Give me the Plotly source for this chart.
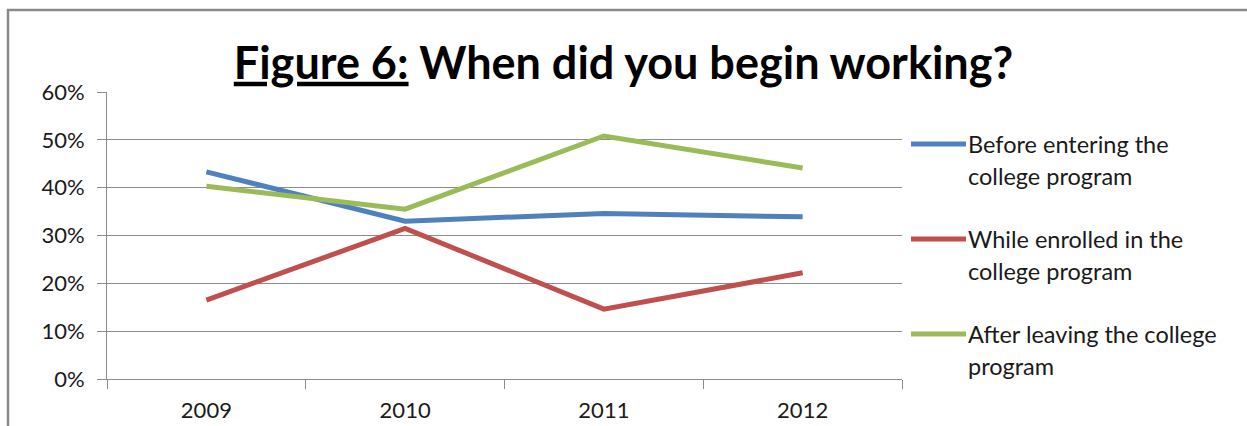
import plotly.graph_objects as go

years = ["2009", "2010", "2011", "2012"]
before_entering = [43.3, 33.0, 34.6, 33.9]
while_enrolled = [16.5, 31.5, 14.6, 22.2]
after_leaving = [40.3, 35.5, 50.8, 44.1]

series_names = [
    ["Before entering the", "college program"],
    ["While enrolled in the", "college program"],
    ["After leaving the college", "program"],
]
series_values = [before_entering, while_enrolled, after_leaving]
series_colors = ["#4F81BD", "#C0504D", "#9BBB59"]

y_ticks = [0, 10, 20, 30, 40, 50, 60]

W, H = 1247, 426
L, R, T, B = 107, 345, 92, 47
PW, PH = W - L - R, H - T - B

FONT = "Lato"
GRID = "#8C8C8C"
TXT = "#1a1a1a"

fig = go.Figure()
for name, vals, col in zip(series_names, series_values, series_colors):
    fig.add_trace(go.Scatter(
        x=years, y=vals, mode="lines", name=" ".join(name),
        line=dict(color=col, width=5), showlegend=False,
    ))

def px_x(px):
    return (px - L) / PW

def px_y(py):
    return (H - B - py) / PH

shapes = []
annotations = []
# custom legend
legend_y = [144, 239, 334]
for (name, col, ly) in zip(series_names, series_colors, legend_y):
    shapes.append(dict(type="line", xref="paper", yref="paper",
                       x0=px_x(911), x1=px_x(966), y0=px_y(ly), y1=px_y(ly),
                       line=dict(color=col, width=5)))
    for i, txt in enumerate(name):
        annotations.append(dict(xref="paper", yref="paper", x=px_x(966), y=px_y(ly + i * 32),
                                text=txt, showarrow=False, xanchor="left", yanchor="middle",
                                font=dict(family=FONT, size=23.5, color=TXT)))

# chart border
shapes.append(dict(type="rect", xref="paper", yref="paper",
                   x0=px_x(8), x1=px_x(1300), y0=px_y(500), y1=px_y(10),
                   line=dict(color="#8A8A8A", width=2.5), layer="below"))

fig.update_layout(
    width=W, height=H,
    margin=dict(l=L, r=R, t=T, b=B, autoexpand=False),
    paper_bgcolor="white", plot_bgcolor="white",
    title=dict(text="<u>Figure 6:</u> When did you begin working?",
               x=0.5, xanchor="center", xref="container",
               y=1 - 63 / H, yanchor="middle", yref="container",
               font=dict(family=FONT, size=45, color="black", weight="bold")),
    shapes=shapes, annotations=annotations,
    showlegend=False,
)

fig.update_xaxes(
    type="category", range=[-0.5, 3.5], tickson="boundaries",
    ticks="outside", ticklen=9, tickcolor=GRID, tickwidth=1,
    showline=True, linecolor=GRID, linewidth=1,
    showgrid=False, zeroline=False, automargin=False,
    tickfont=dict(family=FONT, size=22, color=TXT),
    ticklabelstandoff=12,
)
fig.update_yaxes(
    range=[0, 60], tickvals=y_ticks, ticktext=[f"{v}%" for v in y_ticks],
    ticks="outside", ticklen=9, tickcolor=GRID, tickwidth=1,
    showline=True, linecolor=GRID, linewidth=1,
    showgrid=True, gridcolor=GRID, gridwidth=1, zeroline=False, automargin=False,
    tickfont=dict(family=FONT, size=22, color=TXT),
    ticklabelstandoff=8,
)

fig.write_html("out.html")
